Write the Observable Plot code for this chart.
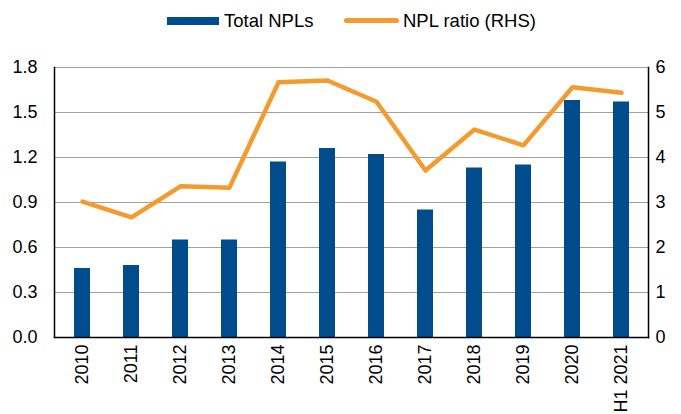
<!DOCTYPE html>
<html><head><meta charset="utf-8">
<script src="https://cdn.jsdelivr.net/npm/d3@7"></script>
<script src="https://cdn.jsdelivr.net/npm/@observablehq/plot@0.6"></script>
<style>
body{margin:0;background:#fff;font-family:"Liberation Sans",Arial,sans-serif;}
#legend{position:relative;height:40px;width:681px;font-size:18.5px;line-height:18px;color:#000;}
#legend .sw{position:absolute;}
#legend span.t{position:absolute;top:12px;white-space:nowrap;}
svg text{font-size:18px;}
</style></head><body>
<div id="legend">
  <div class="sw" style="left:167px;top:17px;width:52px;height:8px;background:#004C8C"></div>
  <span class="t" style="left:224px">Total NPLs</span>
  <div class="sw" style="left:344px;top:18px;width:55px;height:5px;border-radius:3px;background:#F39B2E"></div>
  <span class="t" style="left:403px">NPL ratio (RHS)</span>
</div>
<div id="chart"></div>
<script>
const categories = ["2010","2011","2012","2013","2014","2015","2016","2017","2018","2019","2020","H1 2021"];
const totalNPLs = [0.46,0.48,0.65,0.65,1.17,1.26,1.22,0.85,1.13,1.15,1.58,1.57];
const nplRatio = [3.02,2.67,3.36,3.33,5.67,5.71,5.24,3.71,4.62,4.27,5.56,5.44];
const leftTicks = [0,0.3,0.6,0.9,1.2,1.5,1.8];
const rightTicks = [0,1,2,3,4,5,6];

const k = 1.8/6;
const data = categories.map((c,i)=>({cat:c, npl:totalNPLs[i], ratio:nplRatio[i]}));

const chart = Plot.plot({
  width:681, height:374,
  marginTop:27, marginBottom:77, marginLeft:54, marginRight:33,
  style:{fontFamily:"'Liberation Sans', Arial, sans-serif", fontSize:"18px", color:"#000", background:"#fff", overflow:"visible"},
  x:{domain:categories, paddingInner:0.68, paddingOuter:0.34, label:null},
  y:{domain:[0,1.8], label:null},
  marks:[
    Plot.ruleY(leftTicks,{stroke:"#a0a0a0", strokeWidth:1}),
    Plot.barY(data,{x:"cat", y:"npl", fill:"#004C8C"}),
    Plot.line(data,{x:"cat", y:d=>d.ratio*k, stroke:"#F39B2E", strokeWidth:4.5, strokeLinejoin:"round", strokeLinecap:"round"}),
    Plot.axisY({anchor:"left", ticks:leftTicks, tickSize:0, tickPadding:17, tickFormat:d=>d.toFixed(1), label:null}),
    Plot.axisY({anchor:"right", ticks:rightTicks.map(v=>v*k), tickSize:0, tickPadding:7, tickFormat:d=>String(Math.round(d/k)), label:null}),
    Plot.axisX({tickRotate:-90, tickSize:0, tickPadding:7, label:null}),
    Plot.frame({stroke:"#000", strokeWidth:1.5, anchor:"left"}),
    Plot.frame({stroke:"#000", strokeWidth:1.5, anchor:"right"}),
    Plot.frame({stroke:"#000", strokeWidth:1.5, anchor:"bottom"})
  ]
});
document.getElementById("chart").appendChild(chart);
</script>
</body></html>
